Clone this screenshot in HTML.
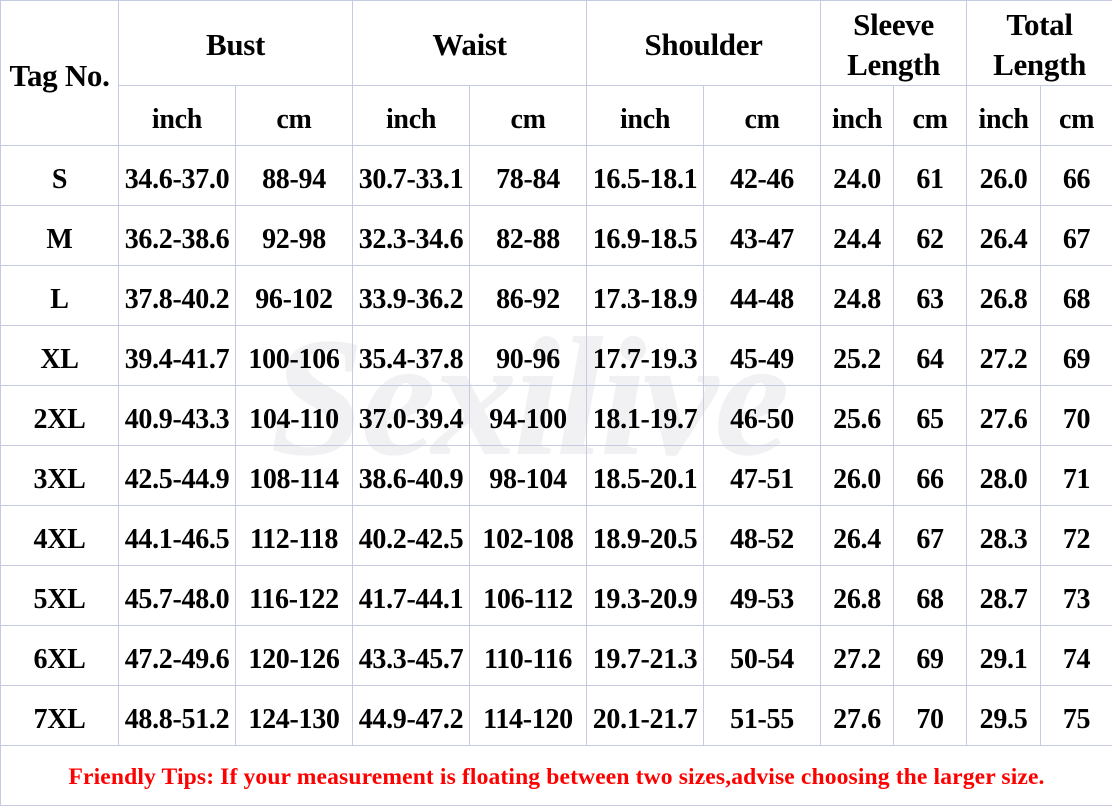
<!DOCTYPE html><html><head><style>
body{margin:0;background:#fff;}
table{position:absolute;left:0;top:0;border-collapse:collapse;table-layout:fixed;width:1112px;font-family:"Liberation Serif",serif;font-weight:bold;}
td{border:1px solid #c5cbe0;text-align:center;padding:8px 0 0 0;box-sizing:border-box;font-size:28px;color:#000;height:60px;white-space:nowrap;overflow:hidden;letter-spacing:-0.3px;}
.h{font-size:31px;line-height:40px;padding-top:4px;}
.tip{color:#f00;font-size:23.6px;padding-top:4px;letter-spacing:0.12px;}
.wm{position:absolute;left:270px;top:300px;font-family:"Liberation Serif",serif;font-style:italic;font-weight:bold;font-size:170px;color:rgba(200,200,210,0.25);letter-spacing:-4px;}
</style></head><body>
<div class="wm">Sexilive</div>
<table>
<colgroup><col style="width:118px"><col style="width:117px"><col style="width:117px"><col style="width:117px"><col style="width:117px"><col style="width:117px"><col style="width:117px"><col style="width:73px"><col style="width:73px"><col style="width:74px"><col style="width:72px"></colgroup>
<tr><td rowspan="2" class="h" style="height:144px;padding-top:6px">Tag No.</td><td colspan="2" class="h" style="height:84px">Bust</td><td colspan="2" class="h">Waist</td><td colspan="2" class="h">Shoulder</td><td colspan="2" class="h">Sleeve<br>Length</td><td colspan="2" class="h">Total<br>Length</td></tr>
<tr><td>inch</td><td>cm</td><td>inch</td><td>cm</td><td>inch</td><td>cm</td><td>inch</td><td>cm</td><td>inch</td><td>cm</td></tr>
<tr><td>S</td><td>34.6-37.0</td><td>88-94</td><td>30.7-33.1</td><td>78-84</td><td>16.5-18.1</td><td>42-46</td><td>24.0</td><td>61</td><td>26.0</td><td>66</td></tr>
<tr><td>M</td><td>36.2-38.6</td><td>92-98</td><td>32.3-34.6</td><td>82-88</td><td>16.9-18.5</td><td>43-47</td><td>24.4</td><td>62</td><td>26.4</td><td>67</td></tr>
<tr><td>L</td><td>37.8-40.2</td><td>96-102</td><td>33.9-36.2</td><td>86-92</td><td>17.3-18.9</td><td>44-48</td><td>24.8</td><td>63</td><td>26.8</td><td>68</td></tr>
<tr><td>XL</td><td>39.4-41.7</td><td>100-106</td><td>35.4-37.8</td><td>90-96</td><td>17.7-19.3</td><td>45-49</td><td>25.2</td><td>64</td><td>27.2</td><td>69</td></tr>
<tr><td>2XL</td><td>40.9-43.3</td><td>104-110</td><td>37.0-39.4</td><td>94-100</td><td>18.1-19.7</td><td>46-50</td><td>25.6</td><td>65</td><td>27.6</td><td>70</td></tr>
<tr><td>3XL</td><td>42.5-44.9</td><td>108-114</td><td>38.6-40.9</td><td>98-104</td><td>18.5-20.1</td><td>47-51</td><td>26.0</td><td>66</td><td>28.0</td><td>71</td></tr>
<tr><td>4XL</td><td>44.1-46.5</td><td>112-118</td><td>40.2-42.5</td><td>102-108</td><td>18.9-20.5</td><td>48-52</td><td>26.4</td><td>67</td><td>28.3</td><td>72</td></tr>
<tr><td>5XL</td><td>45.7-48.0</td><td>116-122</td><td>41.7-44.1</td><td>106-112</td><td>19.3-20.9</td><td>49-53</td><td>26.8</td><td>68</td><td>28.7</td><td>73</td></tr>
<tr><td>6XL</td><td>47.2-49.6</td><td>120-126</td><td>43.3-45.7</td><td>110-116</td><td>19.7-21.3</td><td>50-54</td><td>27.2</td><td>69</td><td>29.1</td><td>74</td></tr>
<tr><td>7XL</td><td>48.8-51.2</td><td>124-130</td><td>44.9-47.2</td><td>114-120</td><td>20.1-21.7</td><td>51-55</td><td>27.6</td><td>70</td><td>29.5</td><td>75</td></tr>
<tr><td colspan="11" class="tip">Friendly Tips: If your measurement is floating between two sizes,advise choosing the larger size.</td></tr>
</table>
</body></html>
